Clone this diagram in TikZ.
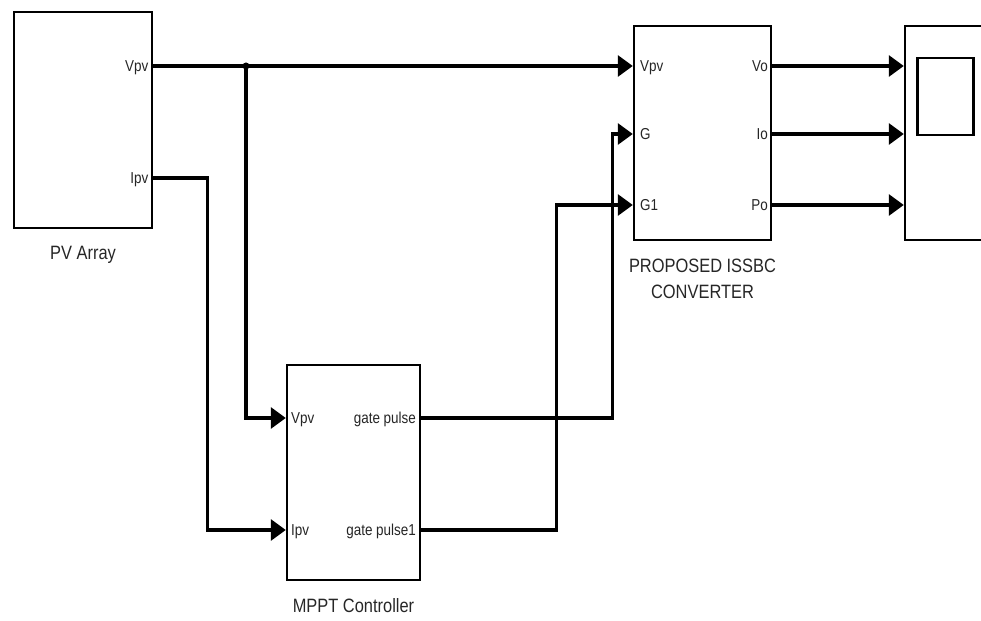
\documentclass[tikz,border=0pt]{standalone}
\usepackage{fontspec}
\setmainfont{Liberation Sans}[FakeStretch=0.85]
\usetikzlibrary{positioning, calc, arrows.meta}

\begin{document}
\begin{tikzpicture}[
  x=0.02cm, y=-0.02cm,
  >={Triangle[length=0.3cm,width=0.42cm]},
  blk/.style={draw=black, line width=1.4pt, fill=white, inner sep=0pt},
  wire/.style={black, line width=1.8pt},
  port/.style={inner sep=0pt, text height=6.4pt, text depth=0pt,
               font=\fontsize{9}{10}\selectfont, text=black!85},
  lbl/.style={inner sep=0pt, align=center,
              font=\fontsize{11}{14.8}\selectfont, text=black!85},
]
\useasboundingbox (0,0) rectangle (981,621);

% ============================================================================
% blocks
% ============================================================================
\node[blk, minimum width=2.76cm, minimum height=4.32cm] (pv)   at (83,120) {};
\node[blk, minimum width=2.74cm, minimum height=4.28cm] (conv) at (702.5,133) {};
\node[blk, minimum width=2.66cm, minimum height=4.30cm] (mppt) at (353.5,472.5) {};
\node[blk, minimum width=2.20cm, minimum height=4.28cm] (scope) at (960,133) {};
% scope screen
\node[draw=black, line width=1.6pt, minimum width=1.12cm, minimum height=1.54cm,
      inner sep=0pt] (screen) at (945.5,96.5) {};

% block names
\node[lbl, below=0.34cm of pv]   (pvname)   {PV Array};
\node[lbl, below=0.34cm of conv] (convname) {PROPOSED ISSBC\\CONVERTER};
\node[lbl, below=0.34cm of mppt] (mpptname) {MPPT Controller};

% ============================================================================
% ports
% ============================================================================
\coordinate (pvV)   at (pv.east |- 0,66);
\coordinate (pvI)   at (pv.east |- 0,178);
\coordinate (cvV)   at (conv.west |- 0,66);
\coordinate (cvG)   at (conv.west |- 0,134);
\coordinate (cvGa)  at (conv.west |- 0,205);
\coordinate (cvVo)  at (conv.east |- 0,66);
\coordinate (cvIo)  at (conv.east |- 0,134);
\coordinate (cvPo)  at (conv.east |- 0,205);
\coordinate (mpV)   at (mppt.west |- 0,418);
\coordinate (mpI)   at (mppt.west |- 0,530);
\coordinate (mpG)   at (mppt.east |- 0,418);
\coordinate (mpGa)  at (mppt.east |- 0,530);
\coordinate (scA)   at (scope.west |- 0,66);
\coordinate (scB)   at (scope.west |- 0,134);
\coordinate (scC)   at (scope.west |- 0,205);
\coordinate (jn)    at (246,66);

% port names
\node[port, left=0.09cm of pvV]   (pvVt)  {Vpv};
\node[port, left=0.09cm of pvI]   (pvIt)  {Ipv};
\node[port, right=0.14cm of cvV]  (cvVt)  {Vpv};
\node[port, right=0.14cm of cvG]  (cvGt)  {G};
\node[port, right=0.14cm of cvGa] (cvGat) {G1};
\node[port, left=0.08cm of cvVo]  (cvVot) {Vo};
\node[port, left=0.08cm of cvIo]  (cvIot) {Io};
\node[port, left=0.08cm of cvPo]  (cvPot) {Po};
\node[port, right=0.1cm of mpV]   (mpVt)  {Vpv};
\node[port, right=0.1cm of mpI]   (mpIt)  {Ipv};
\node[port, left=0.1cm of mpG]    (mpGt)  {gate pulse};
\node[port, left=0.1cm of mpGa]   (mpGat) {gate pulse1};

% ============================================================================
% signal lines
% ============================================================================
\draw[wire, ->] (pvV) -- (cvV);
\fill (jn) circle[radius=0.07cm];
\draw[wire, ->] (jn) |- (mpV);
\draw[wire, ->] (pvI) -- ++(54,0) |- (mpI);

\draw[wire, ->] (mpG)  -- ++(191,0) |- (cvG);
\draw[wire, ->] (mpGa) -- ++(135,0) |- (cvGa);

\draw[wire, ->] (cvVo) -- (scA);
\draw[wire, ->] (cvIo) -- (scB);
\draw[wire, ->] (cvPo) -- (scC);

\end{tikzpicture}
\end{document}
